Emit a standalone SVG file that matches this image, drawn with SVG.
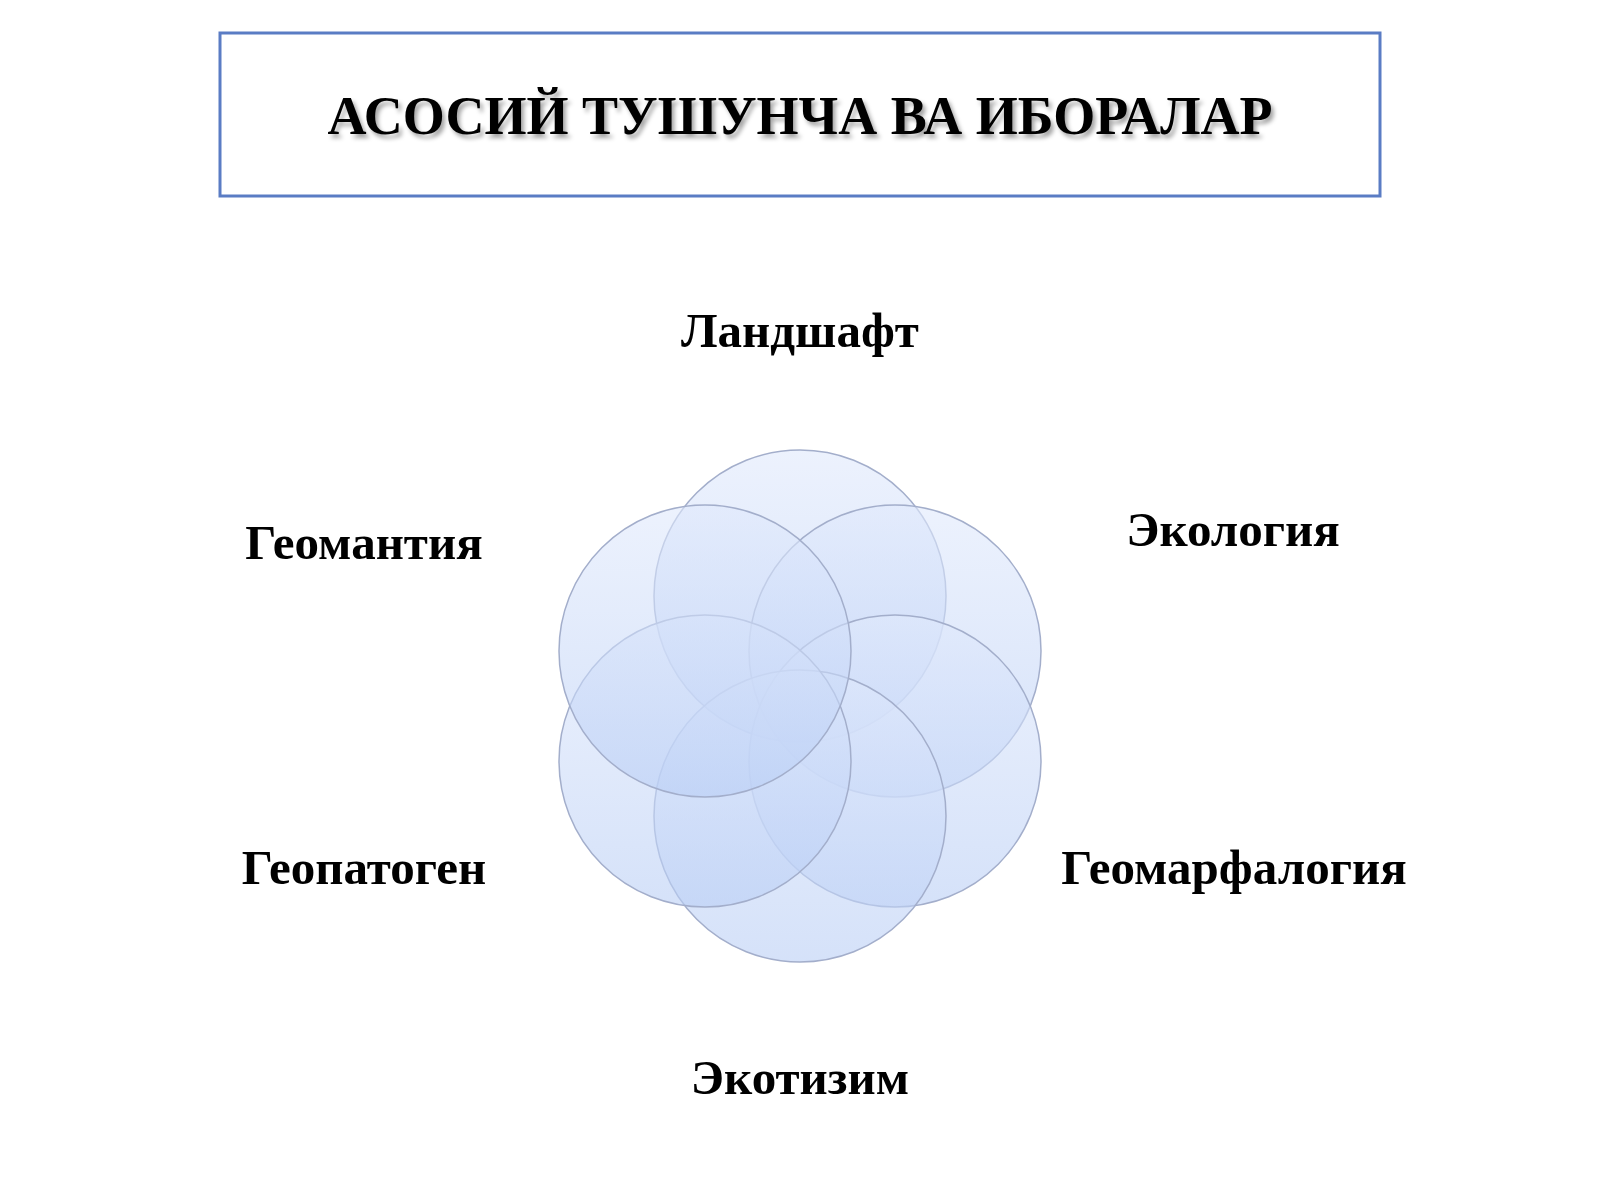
<svg xmlns="http://www.w3.org/2000/svg" width="1600" height="1200" viewBox="0 0 1600 1200">
<defs>
<style>
.lbl{font-family:"Liberation Serif","DejaVu Serif",serif;font-weight:bold;font-size:49px;fill:#000;text-anchor:middle}
.ttl{font-family:"Liberation Serif","DejaVu Serif",serif;font-weight:bold;font-size:54px;fill:#000;text-anchor:middle}
.c{fill:url(#g);fill-opacity:0.6;stroke:#a3aecb;stroke-width:1.5}
</style>
<linearGradient id="g" x1="0" y1="0" x2="0" y2="1">
<stop offset="0" stop-color="#e0e9fc"/>
<stop offset="1" stop-color="#b9cef5"/>
</linearGradient>
<filter id="sh" x="-5%" y="-30%" width="110%" height="160%">
<feDropShadow dx="3" dy="4" stdDeviation="2" flood-color="#000" flood-opacity="0.35"/>
</filter>
</defs>
<rect width="1600" height="1200" fill="#fff"/>
<g id="title">
<rect x="220" y="33" width="1160" height="163" fill="#fff" stroke="#5a7cc4" stroke-width="3"/>
<text class="ttl" x="800" y="134" filter="url(#sh)">АСОСИЙ ТУШУНЧА ВА ИБОРАЛАР</text>
</g>
<g id="venn">
<circle class="c" cx="800" cy="596" r="146"/>
<circle class="c" cx="895" cy="651" r="146"/>
<circle class="c" cx="895" cy="761" r="146"/>
<circle class="c" cx="800" cy="816" r="146"/>
<circle class="c" cx="705" cy="761" r="146"/>
<circle class="c" cx="705" cy="651" r="146"/>
</g>
<g id="n1"><text class="lbl" x="800" y="347">Ландшафт</text></g>
<g id="n2"><text class="lbl" x="1233" y="546">Экология</text></g>
<g id="n3"><text class="lbl" x="1234" y="884">Геомарфалогия</text></g>
<g id="n4"><text class="lbl" x="800" y="1094">Экотизим</text></g>
<g id="n5"><text class="lbl" x="364" y="884">Геопатоген</text></g>
<g id="n6"><text class="lbl" x="364" y="559">Геомантия</text></g>
<g id="connectors"></g>
</svg>
